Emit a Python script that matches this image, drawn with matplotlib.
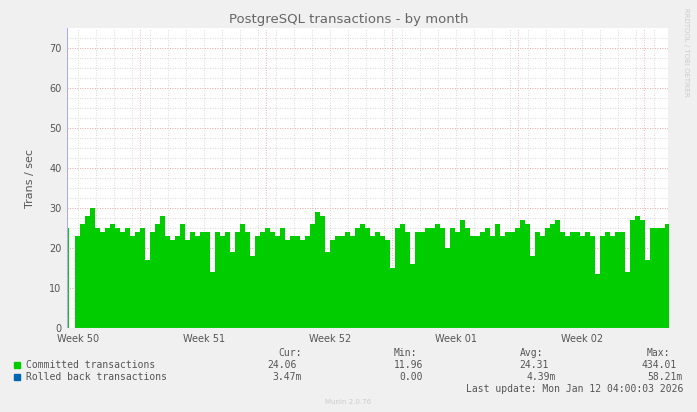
import matplotlib
matplotlib.use("Agg")
import matplotlib.pyplot as plt
import numpy as np

# committed transactions, sampled every ~0.28 day (5 px) from day 0.44
committed = [23, 26, 28, 30, 25, 24, 25, 26, 25, 24, 25, 23, 24, 25, 17, 24, 26, 28, 23, 22,
             23, 26, 22, 24, 23, 24, 24, 14, 24, 23, 24, 19, 24, 26, 24, 18, 23, 24, 25, 24,
             23, 25, 22, 23, 23, 22, 23, 26, 29, 28, 19, 22, 23, 23, 24, 23, 25, 26, 25, 23,
             24, 23, 22, 15, 25, 26, 24, 16, 24, 24, 25, 25, 26, 25, 20, 25, 24, 27, 25, 23,
             23, 24, 25, 23, 26, 23, 24, 24, 25, 27, 26, 18, 24, 23, 25, 26, 27, 24, 23, 24,
             24, 23, 24, 23, 13.5, 23, 24, 23, 24, 24, 14, 27, 28, 27, 17, 25, 25, 25, 26, 26]
spike_day, spike_val = 17.04, 67
first_day, first_val = 0.06, 25
rolled = [0.0]
days_per_px = 1 / 18.0

t = 0.44 + np.arange(len(committed)) * 5 * days_per_px
vals = np.array(committed, float)
# insert spike
ins = np.searchsorted(t, spike_day)
t = np.insert(t, ins, [spike_day, spike_day + 0.03])
vals = np.insert(vals, ins, [spike_val, vals[ins - 1]])

fig = plt.figure(figsize=(6.97, 4.12), dpi=100, facecolor="#f0f0f0")
ax = fig.add_axes([67/697, 84/412, 601/697, 300/412], facecolor="white")
ax.set_xlim(0, 601 * days_per_px)
ax.set_ylim(0, 75)

# grids
for d in np.arange(0.61, 34, 1.0):
    ax.axvline(d, color="#cccccc", lw=0.6, ls=(0, (1, 2)), zorder=0)
for y in np.arange(2.5, 75, 2.5):
    ax.axhline(y, color="#cccccc", lw=0.6, ls=(0, (1, 2)), zorder=0)
for y in range(10, 75, 10):
    ax.axhline(y, color="#f0a0a0", lw=0.6, ls=(0, (1, 2)), zorder=1)
for d in [73/18 + 7*k for k in range(5)]:
    ax.axvline(d, color="#f0a0a0", lw=0.6, ls=(0, (1, 2)), zorder=1)

ax.fill_between(t, 0, vals, step="post", color="#00cc00", lw=0, zorder=2)
ax.fill_between([first_day, first_day + 0.06], 0, first_val, step="post", color="#00cc00", lw=0, zorder=2)

ax.set_yticks(range(0, 71, 10))
weeks = ["Week 50", "Week 51", "Week 52", "Week 01", "Week 02"]
ax.set_xticks([11/18 + 7*k for k in range(5)])
ax.set_xticklabels(weeks)
ax.tick_params(length=0, labelsize=7, colors="#555555", pad=4)
for s in ax.spines.values():
    s.set_visible(False)
ax.plot([0, 0], [0, 75], color="#aaaaff", lw=0.8, zorder=3)
ax.plot([0, 601*days_per_px], [0, 0], color="#aaaaff", lw=0.8, zorder=3)
ax.set_ylabel("Trans / sec", fontsize=8, color="#555555", labelpad=10)

fig.text(0.5, 1 - 20/412, "PostgreSQL transactions - by month", ha="center", va="center",
         fontsize=9.5, color="#666666")
fig.text(686/697, 1 - 52/412, "RRDTOOL / TOBI OETIKER", rotation=270, ha="center", va="center",
         fontsize=5, color="#cccccc")

mono = dict(family="DejaVu Sans Mono", fontsize=7, color="#555555")
def px(x, y, s, ha="left"):
    fig.text(x/697, 1 - y/412, s, ha=ha, va="center", **mono)
fig.patches.append(plt.Rectangle((14/697, 1-368/412), 6/697, 6/412, transform=fig.transFigure, color="#00cc00"))
fig.patches.append(plt.Rectangle((14/697, 1-380/412), 6/697, 6/412, transform=fig.transFigure, color="#0066b3"))
px(26, 365, "Committed transactions")
px(26, 377, "Rolled back transactions")
px(302, 353, "Cur:", "right"); px(417, 353, "Min:", "right"); px(543, 353, "Avg:", "right"); px(670, 353, "Max:", "right")
px(297, 365, "24.06", "right"); px(423, 365, "11.96", "right"); px(549, 365, "24.31", "right"); px(677, 365, "434.01", "right")
px(302, 377, "3.47m", "right"); px(423, 377, "%.2f" % rolled[0], "right"); px(556, 377, "4.39m", "right"); px(683, 377, "58.21m", "right")
px(683, 389, "Last update: Mon Jan 12 04:00:03 2026", "right")
fig.text(348/697, 1 - 402/412, "Munin 2.0.76", ha="center", va="center", fontsize=5, color="#cccccc")

fig.savefig("out.png", dpi=100, facecolor=fig.get_facecolor())
